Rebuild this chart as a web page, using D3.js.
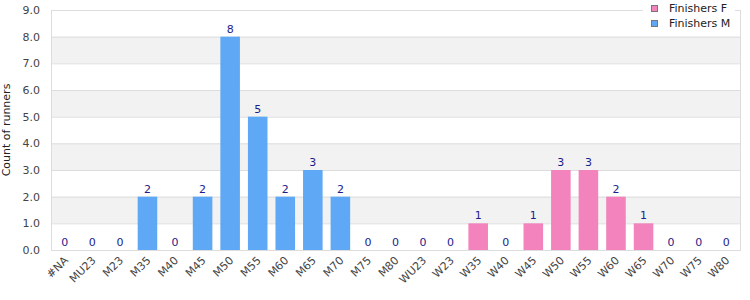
<!DOCTYPE html>
<html>
<head>
<meta charset="utf-8">
<script src="https://cdn.jsdelivr.net/npm/d3@7"></script>
<style>
body{margin:0;background:#fff;}
svg{font-family:"DejaVu Sans",Verdana,sans-serif;}
</style>
</head>
<body>
<svg id="chart"></svg>
<script>
var categories=["#NA","MU23","M23","M35","M40","M45","M50","M55","M60","M65","M70","M75","M80",
    "WU23","W23","W35","W40","W45","W50","W55","W60","W65","W70","W75","W80"];
var finishersM=[0,0,0,2,0,2,8,5,2,3,2,0,0,0,0,0,0,0,0,0,0,0,0,0,0];
var finishersF=[0,0,0,0,0,0,0,0,0,0,0,0,0,0,0,1,0,1,3,3,2,1,0,0,0];
var yTicks=[0,1,2,3,4,5,6,7,8,9];
var seriesNames=["Finishers F","Finishers M"];

var screen={width:750,height:300}
var margins={top:10,bottom:50,left:51,right:10}
var colors={"Finishers F":"#f283bc","Finishers M":"#5fa8f5"}

var svg=d3.select("#chart")
    .attr("width",screen.width)
    .attr("height",screen.height)

var xScale=d3.scaleBand()
    .domain(categories)
    .range([margins.left,screen.width-margins.right])
    .paddingInner(0.29)
    .paddingOuter(0.145)
var yScale=d3.scaleLinear()
    .domain([0,9])
    .range([screen.height-margins.bottom,margins.top])

//alternating bands
svg.append("g").selectAll("rect")
    .data(yTicks.filter(function(d){return d%2==1 && d<9}))
    .enter()
    .append("rect")
    .attr("x",margins.left)
    .attr("width",screen.width-margins.right-margins.left)
    .attr("y",function(d){return yScale(d+1)})
    .attr("height",function(d){return yScale(d)-yScale(d+1)})
    .attr("fill","#f2f2f2")

//grid
svg.append("g").selectAll("line")
    .data(yTicks)
    .enter()
    .append("line")
    .attr("x1",margins.left)
    .attr("x2",screen.width-margins.right)
    .attr("y1",function(d){return yScale(d)+0.5})
    .attr("y2",function(d){return yScale(d)+0.5})
    .attr("stroke","#dddddd")

//frame
svg.append("rect")
    .attr("x",margins.left+0.5)
    .attr("y",margins.top+0.5)
    .attr("width",screen.width-margins.right-margins.left)
    .attr("height",screen.height-margins.bottom-margins.top)
    .attr("fill","none")
    .attr("stroke","#dddddd")

var rows=categories.map(function(c,i){
    return {cat:c,m:finishersM[i],f:finishersF[i]}
})

var bars=svg.append("g")
bars.selectAll(".barM")
    .data(rows.filter(function(d){return d.m>0}))
    .enter()
    .append("rect")
    .attr("x",function(d){return xScale(d.cat)})
    .attr("width",xScale.bandwidth())
    .attr("y",function(d){return yScale(d.m)})
    .attr("height",function(d){return yScale(0)-yScale(d.m)})
    .attr("fill",colors["Finishers M"])
bars.selectAll(".barF")
    .data(rows.filter(function(d){return d.f>0}))
    .enter()
    .append("rect")
    .attr("x",function(d){return xScale(d.cat)})
    .attr("width",xScale.bandwidth())
    .attr("y",function(d){return yScale(d.m+d.f)})
    .attr("height",function(d){return yScale(d.m)-yScale(d.m+d.f)})
    .attr("fill",colors["Finishers F"])

//value labels
svg.append("g").selectAll("text")
    .data(rows)
    .enter()
    .append("text")
    .attr("x",function(d){return xScale(d.cat)+xScale.bandwidth()/2})
    .attr("y",function(d){return yScale(d.m+d.f)-4})
    .attr("text-anchor","middle")
    .attr("font-size","11px")
    .attr("fill","#1c1c8c")
    .text(function(d){return d.m+d.f})

//y axis
var yAxis=d3.axisLeft(yScale)
    .tickValues(yTicks)
    .tickFormat(d3.format(".1f"))
    .tickSize(0)
    .tickPadding(11)
var yg=svg.append("g")
    .attr("transform","translate("+margins.left+",0)")
    .call(yAxis)
yg.select(".domain").remove()
yg.selectAll("text")
    .attr("font-size","11px")
    .attr("font-family","DejaVu Sans")
    .attr("fill","#444")

//x axis
var xAxis=d3.axisBottom(xScale).tickSize(0).tickPadding(0)
var xg=svg.append("g")
    .attr("transform","translate(0,"+(screen.height-margins.bottom)+")")
    .call(xAxis)
xg.select(".domain").remove()
xg.selectAll("text")
    .attr("font-size","11px")
    .attr("font-family","DejaVu Sans")
    .attr("fill","#444")
    .attr("text-anchor","end")
    .attr("dy","0")
    .attr("transform","translate(4,11) rotate(-45)")

//y title
svg.append("text")
    .attr("transform","translate(10,"+((margins.top+screen.height-margins.bottom)/2)+") rotate(-90)")
    .attr("text-anchor","middle")
    .attr("font-size","11px")
    .attr("fill","#222")
    .text("Count of runners")

//legend
var legend=svg.append("g")
legend.append("rect")
    .attr("x",643)
    .attr("y",0)
    .attr("width",92)
    .attr("height",30)
    .attr("fill","#fff")
var items=legend.selectAll(".item")
    .data(seriesNames)
    .enter()
    .append("g")
    .attr("transform",function(d,i){return "translate(651,"+(5+i*15)+")"})
items.append("rect")
    .attr("x",0.5)
    .attr("y",0.5)
    .attr("width",6)
    .attr("height",6)
    .attr("fill",function(d){return colors[d]})
    .attr("stroke","#777")
items.append("text")
    .attr("x",18)
    .attr("y",7)
    .attr("font-size","11px")
    .attr("fill","#222")
    .text(function(d){return d})
</script>
</body>
</html>
